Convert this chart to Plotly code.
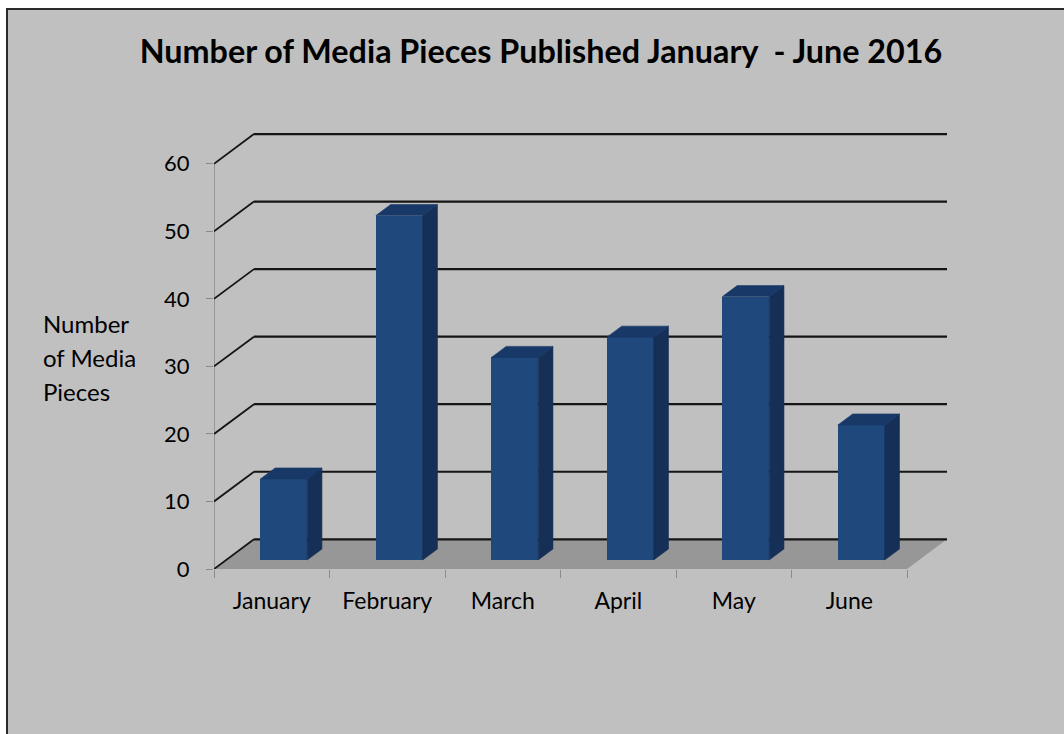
import plotly.graph_objects as go

categories = ["January", "February", "March", "April", "May", "June"]
pieces = [12, 51, 30, 33, 39, 20]
y_ticks = [0, 10, 20, 30, 40, 50, 60]
y_title_lines = ["Number", "of Media", "Pieces"]

BG = "#C0C0C0"
FONT = "Lato"
TICK = "#8a8a8a"

# 3-D look expressed in axis units
DX, DY = 0.346, 4.4          # depth of the whole chart box
BAR_DX, BAR_DY = 0.128, 1.63  # depth of one bar
OFF_X, OFF_Y = 0.104, 1.33    # shift of a bar into the box
BAR_W = 0.405
X_MAX = 6 + DX
Y_MAX = 60 + DY + 0.6
PLOT_TOP, PLOT_BOTTOM = 130, 569
PLOT_H = PLOT_BOTTOM - PLOT_TOP


def py(pixel):
    return (PLOT_BOTTOM - pixel) / PLOT_H


shapes = [
    dict(type="rect", xref="paper", yref="paper", layer="below",
         x0=(7 - 214) / 733, x1=(1075 - 214) / 733,
         y0=py(745), y1=py(9),
         fillcolor=BG, line=dict(color="#2a2a2a", width=2)),
    dict(type="path", layer="below", line=dict(width=0), fillcolor="#979797",
         path=f"M 0 0 L {DX} {DY} L {X_MAX} {DY} L 6 0 Z"),
    dict(type="line", layer="below", x0=0, x1=0, y0=0, y1=60,
         line=dict(color=TICK, width=1.5)),
]
for v in y_ticks:
    shapes.append(dict(type="line", layer="below", x0=0, y0=v, x1=DX, y1=v + DY,
                       line=dict(color="#151515", width=1.8)))
    shapes.append(dict(type="line", layer="below", x0=DX, y0=v + DY, x1=X_MAX, y1=v + DY,
                       line=dict(color="#151515", width=2.2)))

centers = [i + 0.5 + OFF_X for i in range(len(categories))]

fig = go.Figure()
fig.add_trace(go.Bar(x=centers, y=pieces, base=OFF_Y, width=BAR_W,
                     marker=dict(color="#1F487C", line=dict(width=0)),
                     showlegend=False, hoverinfo="skip"))
for c, v in zip(centers, pieces):
    x0, x1 = c - BAR_W / 2, c + BAR_W / 2
    bot, top = OFF_Y, OFF_Y + v
    fig.add_trace(go.Scatter(
        x=[x1, x1, x1 + BAR_DX, x1 + BAR_DX, x1],
        y=[bot, top, top + BAR_DY, bot + BAR_DY, bot],
        mode="lines", fill="toself", fillcolor="#152F57",
        line=dict(width=0.6, color="#152F57"),
        showlegend=False, hoverinfo="skip"))
    fig.add_trace(go.Scatter(
        x=[x0, x0 + BAR_DX, x1 + BAR_DX, x1, x0],
        y=[top, top + BAR_DY, top + BAR_DY, top, top],
        mode="lines", fill="toself", fillcolor="#183867",
        line=dict(width=0.6, color="#183867"),
        showlegend=False, hoverinfo="skip"))

annotations = [
    dict(text=line, xref="paper", yref="paper",
         x=(41 - 214) / 733, y=py(323 + 34 * i), xanchor="left", yanchor="middle",
         align="left", showarrow=False,
         font=dict(family=FONT, size=24, color="#000000"))
    for i, line in enumerate(y_title_lines)
]

fig.update_layout(
    width=1064, height=734,
    margin=dict(l=214, r=117, t=PLOT_TOP, b=734 - PLOT_BOTTOM, pad=0),
    paper_bgcolor="white", plot_bgcolor="rgba(0,0,0,0)",
    shapes=shapes, showlegend=False, bargap=0,
    font=dict(family=FONT, color="#000000"),
    title=dict(text="<b>Number of Media Pieces Published January  - June 2016</b>",
               x=541 / 1064, xanchor="center", y=1 - 52 / 734, yanchor="middle",
               font=dict(family=FONT, size=32.3, color="#000000")),
    xaxis=dict(range=[0, X_MAX], showgrid=False, zeroline=False, showline=False,
               tickmode="array", tickvals=[i + 0.5 for i in range(6)], ticktext=categories,
               ticks="outside", ticklen=11, tickcolor="rgba(0,0,0,0)",
               tickfont=dict(family=FONT, size=23),
               minor=dict(tickmode="array", tickvals=list(range(7)), ticks="outside",
                          ticklen=8, tickcolor=TICK, tickwidth=1.2, showgrid=False)),
    yaxis=dict(range=[0, Y_MAX], showgrid=False, zeroline=False, showline=False,
               tickmode="array", tickvals=y_ticks, ticks="outside", ticklen=7,
               tickcolor=TICK, tickwidth=1.2, ticklabelstandoff=12,
               tickfont=dict(family=FONT, size=22)),
    annotations=annotations,
)

fig.write_html("out.html", config={"displayModeBar": False},
               post_script="document.body.style.margin='0';document.body.style.overflow='hidden';")
